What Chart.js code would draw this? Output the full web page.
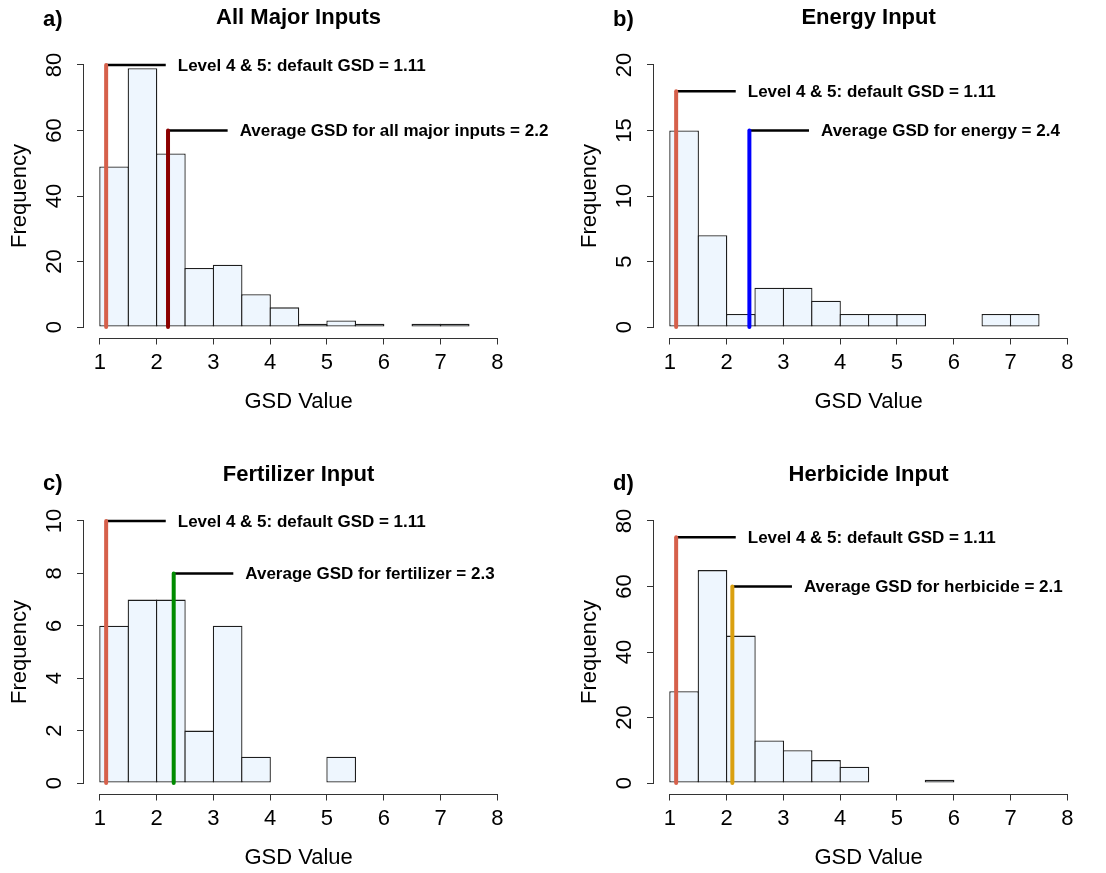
<!DOCTYPE html>
<html>
<head>
<meta charset="utf-8">
<script src="https://cdn.jsdelivr.net/npm/chart.js@4.4.1/dist/chart.umd.min.js"></script>
<style>
body { margin: 0; background: #fff; width: 1106px; height: 873px; position: relative; overflow: hidden; }
canvas { position: absolute; }
</style>
</head>
<body>
<canvas id="chart-a" width="600" height="417" style="left:0;top:0"></canvas>
<canvas id="chart-b" width="536" height="417" style="left:570px;top:0"></canvas>
<canvas id="chart-c" width="600" height="417" style="left:0;top:456px"></canvas>
<canvas id="chart-d" width="536" height="417" style="left:570px;top:456px"></canvas>
<script>
// histogram bins (left edges, width 0.5)
const binStarts = [1, 1.5, 2, 2.5, 3, 3.5, 4, 4.5, 5, 5.5, 6, 6.5, 7];
const binWidth = 0.5;

const allMajorCounts = [49, 79, 53, 18, 19, 10, 6, 1, 2, 1, 0, 1, 1];
const energyCounts = [15, 7, 1, 3, 3, 2, 1, 1, 1, 0, 0, 1, 1];
const fertilizerCounts = [6, 7, 7, 2, 6, 1, 0, 0, 1];
const herbicideCounts = [28, 65, 45, 13, 10, 7, 5, 0, 0, 1];

const xTicks = [1, 2, 3, 4, 5, 6, 7, 8];
const allMajorTicks = [0, 20, 40, 60, 80];
const energyTicks = [0, 5, 10, 15, 20];
const fertilizerTicks = [0, 2, 4, 6, 8, 10];
const herbicideTicks = [0, 20, 40, 60, 80];

// reference GSD lines: x value and height of each line
const defaultGsd = 1.11;
const defaultTops = [80, 18, 10, 75];
const meanGsd = [2.2, 2.4, 2.3, 2.1];
const meanTops = [60, 15, 8, 60];

const leaderLength = 1.05;
const red = "#D6604B";
const axisColor = "#333";

Chart.defaults.font.family = "'Liberation Sans', Arial, sans-serif";
Chart.defaults.color = "#000";

// R-like axes, titles and line notes
const rStyle = {
	id: "rStyle",
	afterDraw(chart, args, opts) {
		const { ctx, chartArea } = chart;
		const x = chart.scales.x;
		const y = chart.scales.y;

		ctx.save();
		ctx.strokeStyle = axisColor;
		ctx.lineWidth = 1;

		const yb = Math.round(chartArea.bottom) + 0.5;
		ctx.beginPath();
		ctx.moveTo(x.getPixelForValue(xTicks[0]), yb);
		ctx.lineTo(x.getPixelForValue(xTicks[xTicks.length - 1]), yb);
		ctx.stroke();

		const xl = Math.round(chartArea.left) - 0.5;
		ctx.beginPath();
		ctx.moveTo(xl, y.getPixelForValue(opts.yTicks[0]));
		ctx.lineTo(xl, y.getPixelForValue(opts.yTicks[opts.yTicks.length - 1]));
		ctx.stroke();

		// rotated y tick labels
		ctx.fillStyle = "#000";
		ctx.font = "22px 'Liberation Sans', Arial, sans-serif";
		ctx.textAlign = "center";
		ctx.textBaseline = "middle";
		opts.yTicks.forEach((v) => {
			ctx.save();
			ctx.translate(chartArea.left - 29, y.getPixelForValue(v));
			ctx.rotate(-Math.PI / 2);
			ctx.fillText(String(v), 0, 0);
			ctx.restore();
		});

		// title and panel letter
		ctx.font = "bold 22px 'Liberation Sans', Arial, sans-serif";
		ctx.textBaseline = "alphabetic";
		ctx.fillText(opts.title, (chartArea.left + chartArea.right) / 2, opts.titleY);
		ctx.textAlign = "left";
		ctx.fillText(opts.letter, 43, opts.letterY);

		// notes next to the leader lines
		ctx.font = "bold 17px 'Liberation Sans', Arial, sans-serif";
		ctx.textBaseline = "middle";
		opts.notes.forEach((n) => {
			const px = x.getPixelForValue(n.value + leaderLength) + 12;
			ctx.fillText(n.text, px, y.getPixelForValue(n.top) + 1);
		});

		ctx.restore();
	},
};

function vLine(value, top, color) {
	return {
		type: "line",
		data: [
			{ x: value, y: 0 },
			{ x: value, y: top },
		],
		borderColor: color,
		borderWidth: 4,
		borderCapStyle: "round",
		pointRadius: 0,
		order: 0,
	};
}

function leader(value, top) {
	return {
		type: "line",
		data: [
			{ x: value, y: top },
			{ x: value + leaderLength, y: top },
		],
		borderColor: "#000",
		borderWidth: 2.5,
		borderCapStyle: "butt",
		pointRadius: 0,
		order: 0,
	};
}

function makePanel(id, counts, yTicks, title, letter, meanColor, meanText, index, bottomRow) {
	const canvas = document.getElementById(id);
	const yMax = yTicks[yTicks.length - 1];
	const bars = counts.map((c, i) => ({ x: binStarts[i] + binWidth / 2, y: c }));

	const notes = [
		{ value: defaultGsd, top: defaultTops[index], text: "Level 4 & 5: default GSD = 1.11" },
		{ value: meanGsd[index], top: meanTops[index], text: meanText },
	];

	new Chart(canvas, {
		type: "bar",
		data: {
			datasets: [
				vLine(defaultGsd, defaultTops[index], red),
				vLine(meanGsd[index], meanTops[index], meanColor),
				leader(defaultGsd, defaultTops[index]),
				leader(meanGsd[index], meanTops[index]),
				{
					type: "bar",
					data: bars,
					backgroundColor: "#EEF6FE",
					borderColor: "#1e1e1e",
					borderWidth: (ctx) => (ctx.raw && ctx.raw.y === 0 ? 0 : 1.3),
					borderSkipped: false,
					barPercentage: 1.045,
					categoryPercentage: 1,
					order: 2,
				},
			],
		},
		options: {
			responsive: false,
			animation: false,
			events: [],
			layout: {
				padding: { top: 54.5, left: 0, bottom: 0, right: canvas.width - 513.2 },
			},
			plugins: {
				legend: { display: false },
				tooltip: { enabled: false },
				rStyle: {
					title,
					letter,
					titleY: bottomRow ? 25 : 24,
					letterY: bottomRow ? 34 : 26,
					yTicks,
					notes,
				},
			},
			scales: {
				x: {
					type: "linear",
					offset: false,
					min: 0.72,
					max: 8.28,
					afterBuildTicks: (s) => {
						s.ticks = xTicks.map((v) => ({ value: v }));
					},
					afterFit: (s) => {
						s.height = 79.5;
					},
					border: { display: false },
					grid: { drawOnChartArea: false, offset: false, tickLength: 7, color: axisColor },
					ticks: { font: { size: 22 }, padding: 5.3, maxRotation: 0, autoSkip: false },
					title: { display: true, text: "GSD Value", font: { size: 22 }, padding: { top: 0, bottom: 1.8 } },
				},
				y: {
					min: -0.04 * yMax,
					max: 1.04 * yMax,
					afterBuildTicks: (s) => {
						s.ticks = yTicks.map((v) => ({ value: v }));
					},
					afterFit: (s) => {
						s.width = 84;
					},
					border: { display: false },
					grid: { drawOnChartArea: false, tickLength: 7, color: axisColor },
					ticks: { display: false },
					title: { display: true, text: "Frequency", font: { size: 22 }, padding: { top: 7, bottom: 0 } },
				},
			},
		},
		plugins: [rStyle],
	});
}

makePanel("chart-a", allMajorCounts, allMajorTicks, "All Major Inputs", "a)", "#8B0000", "Average GSD for all major inputs = 2.2", 0, false);
makePanel("chart-b", energyCounts, energyTicks, "Energy Input", "b)", "#0000FF", "Average GSD for energy = 2.4", 1, false);
makePanel("chart-c", fertilizerCounts, fertilizerTicks, "Fertilizer Input", "c)", "#008B00", "Average GSD for fertilizer = 2.3", 2, true);
makePanel("chart-d", herbicideCounts, herbicideTicks, "Herbicide Input", "d)", "#DAA010", "Average GSD for herbicide = 2.1", 3, true);
</script>
</body>
</html>
